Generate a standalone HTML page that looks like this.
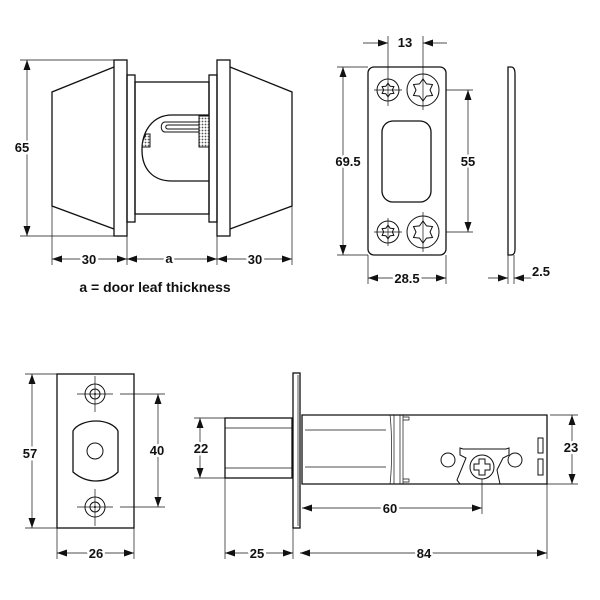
<!DOCTYPE html>
<html><head><style>
html,body{margin:0;padding:0;background:#fff;}
svg{display:block;}
text{font-family:"Liberation Sans",sans-serif;font-weight:bold;font-size:13px;fill:#111;paint-order:stroke;stroke:#fff;stroke-width:5px;stroke-linejoin:round;}
.o{fill:none;stroke:#111;stroke-width:1.3;}
.d{fill:none;stroke:#111;stroke-width:0.7;}
.da{fill:none;stroke:#111;stroke-width:0.7;marker-start:url(#a);marker-end:url(#a);}
.de{fill:none;stroke:#111;stroke-width:0.7;marker-end:url(#a);}
</style></head><body>
<svg width="600" height="600" viewBox="0 0 600 600" xmlns="http://www.w3.org/2000/svg">
<defs>
<marker id="a" markerUnits="userSpaceOnUse" markerWidth="10" markerHeight="7" refX="10" refY="3.5" orient="auto-start-reverse"><path d="M0,0 L10,3.5 L0,7 z" fill="#111"/></marker>
<pattern id="h" width="3" height="3" patternUnits="userSpaceOnUse"><rect width="3" height="3" fill="#fff"/><circle cx="1.5" cy="1.5" r="0.9" fill="#555"/></pattern>
<path id="star" d="M9.5,5.5 L3.5,6.1 L0,11 L-3.5,6.1 L-9.5,5.5 L-7,0 L-9.5,-5.5 L-3.5,-6.1 L0,-11 L3.5,-6.1 L9.5,-5.5 L7,0 Z" fill="none" stroke="#111" stroke-width="1" vector-effect="non-scaling-stroke"/>
</defs>

<!-- ===== Top-left: lock body ===== -->
<path class="o" d="M114,67 L52,92 L52,206 L114,229"/>
<rect class="o" x="114" y="60" width="13" height="176"/>
<rect class="o" x="127" y="75" width="8" height="147"/>
<rect class="o" x="135" y="82" width="74" height="132"/>
<rect class="o" x="209" y="75" width="8" height="147"/>
<rect class="o" x="217" y="60" width="13" height="176"/>
<path class="o" d="M230,67 L292,92 L292,206 L230,229"/>
<path class="o" d="M209,115 L172,115 C152,115 142,132 142,150 C142,168 152,181 172,181 L209,181"/>
<rect x="199" y="116" width="10" height="31" fill="url(#h)" stroke="#111" stroke-width="1"/>
<path d="M142,147 L150,147 L150,134 L146,134 C144,138 142,142 142,147 Z" fill="url(#h)" stroke="#111" stroke-width="1"/>
<path class="o" style="stroke-width:1" d="M199,122 L165,122 C160,122 160,132 165,132 L199,132 M199,125 L168,125 C165,125 165,129 168,129 L199,129"/>
<!-- dims -->
<line class="d" x1="20" y1="60" x2="114" y2="60"/>
<line class="d" x1="20" y1="236" x2="114" y2="236"/>
<line class="da" x1="27" y1="60" x2="27" y2="236"/>
<text x="22" y="152" text-anchor="middle">65</text>
<line class="d" x1="52" y1="206" x2="52" y2="265"/>
<line class="d" x1="127" y1="236" x2="127" y2="265"/>
<line class="d" x1="217" y1="236" x2="217" y2="265"/>
<line class="d" x1="292" y1="206" x2="292" y2="265"/>
<line class="da" x1="52" y1="259" x2="127" y2="259"/>
<line class="da" x1="127" y1="259" x2="217" y2="259"/>
<line class="da" x1="217" y1="259" x2="292" y2="259"/>
<text x="89" y="264" text-anchor="middle">30</text>
<text x="169" y="263" text-anchor="middle">a</text>
<text x="255" y="264" text-anchor="middle">30</text>
<text x="155" y="292" text-anchor="middle" style="font-size:14px">a = door leaf thickness</text>

<!-- ===== Top-right: strike plate ===== -->
<rect class="o" x="368" y="67" width="78" height="188" rx="6"/>
<rect class="o" x="382" y="121" width="49" height="81" rx="11"/>
<g>
<circle class="o" style="stroke-width:1" cx="388" cy="90" r="11"/>
<circle class="o" style="stroke-width:1" cx="388" cy="232" r="11"/>
<use href="#star" transform="translate(388,90) scale(0.62)"/>
<use href="#star" transform="translate(388,232) scale(0.62)"/>
<circle class="o" style="stroke-width:1" cx="423" cy="90" r="16"/>
<circle class="o" style="stroke-width:1" cx="423" cy="232" r="16"/>
<use href="#star" transform="translate(423,90)"/>
<use href="#star" transform="translate(423,232)"/>
</g>
<line class="d" x1="388" y1="36" x2="388" y2="106"/>
<line class="d" x1="423" y1="36" x2="423" y2="110"/>
<line class="d" x1="374" y1="90" x2="402" y2="90"/>
<line class="d" x1="374" y1="232" x2="402" y2="232"/>
<line class="d" x1="388" y1="218" x2="388" y2="246"/>
<line class="d" x1="423" y1="212" x2="423" y2="252"/>
<line class="de" x1="363" y1="43" x2="388" y2="43"/>
<line class="de" x1="447" y1="43" x2="423" y2="43"/>
<text x="405" y="47" text-anchor="middle">13</text>
<line class="d" x1="337" y1="67" x2="368" y2="67"/>
<line class="d" x1="337" y1="255" x2="368" y2="255"/>
<line class="da" x1="343" y1="67" x2="343" y2="255"/>
<text x="348" y="166" text-anchor="middle">69.5</text>
<line class="d" x1="446" y1="90" x2="473" y2="90"/>
<line class="d" x1="446" y1="232" x2="473" y2="232"/>
<line class="da" x1="468" y1="90" x2="468" y2="232"/>
<text x="468" y="166" text-anchor="middle">55</text>
<line class="d" x1="368" y1="255" x2="368" y2="284"/>
<line class="d" x1="446" y1="255" x2="446" y2="284"/>
<line class="da" x1="368" y1="278" x2="446" y2="278"/>
<text x="407" y="283" text-anchor="middle">28.5</text>
<!-- side plate -->
<path class="o" d="M508,67 L511,67 C514,67 515,70 515,74 L515,249 C515,253 514,255 511,255 L508,255 Z"/>
<line class="d" x1="508" y1="255" x2="508" y2="284"/>
<line class="d" x1="514" y1="255" x2="514" y2="284"/>
<line class="de" x1="488" y1="278" x2="508" y2="278"/>
<line class="de" x1="536" y1="278" x2="514" y2="278"/>
<text x="541" y="276" text-anchor="middle">2.5</text>

<!-- ===== Bottom-left: face plate ===== -->
<rect class="o" x="57" y="374" width="77" height="154"/>
<path class="o" d="M73,431 C76,425 86,421 96,421 C106,421 115,425 118,431 L118,472 C112,478 104,481 96,481 C88,481 80,478 73,472 Z"/>
<circle class="o" style="stroke-width:1" cx="95" cy="451" r="8"/>
<circle class="o" style="stroke-width:1" cx="95" cy="394" r="10"/>
<circle class="o" style="stroke-width:1" cx="95" cy="394" r="5"/>
<circle class="o" style="stroke-width:1" cx="95" cy="507" r="10"/>
<circle class="o" style="stroke-width:1" cx="95" cy="507" r="5"/>
<circle cx="95" cy="394" r="1" fill="#111"/>
<circle cx="95" cy="507" r="1" fill="#111"/>
<line class="d" x1="95" y1="376" x2="95" y2="412"/>
<line class="d" x1="95" y1="489" x2="95" y2="526"/>
<line class="d" x1="77" y1="394" x2="113" y2="394"/>
<line class="d" x1="77" y1="507" x2="113" y2="507"/>
<line class="d" x1="120" y1="394" x2="165" y2="394"/>
<line class="d" x1="120" y1="507" x2="165" y2="507"/>
<line class="d" x1="25" y1="374" x2="57" y2="374"/>
<line class="d" x1="25" y1="528" x2="57" y2="528"/>
<line class="da" x1="32" y1="374" x2="32" y2="528"/>
<text x="30" y="458" text-anchor="middle">57</text>
<line class="da" x1="158" y1="394" x2="158" y2="507"/>
<text x="157" y="455" text-anchor="middle">40</text>
<line class="d" x1="57" y1="528" x2="57" y2="559"/>
<line class="d" x1="134" y1="528" x2="134" y2="559"/>
<line class="da" x1="57" y1="553" x2="134" y2="553"/>
<text x="96" y="558" text-anchor="middle">26</text>

<!-- ===== Bottom-right: latch ===== -->
<rect class="o" x="225" y="418" width="67" height="60"/>
<line class="d" x1="225" y1="428" x2="292" y2="428"/>
<line class="d" x1="225" y1="468" x2="292" y2="468"/>
<rect class="o" x="293" y="373" width="7" height="155"/>
<line class="d" x1="298" y1="375" x2="298" y2="526"/>
<path class="o" d="M302,484 L302,415 L390,415 L547,415 C547,415 547,418 547,420 L547,484 Z"/>
<line class="d" x1="305" y1="430" x2="386" y2="430"/>
<line class="d" x1="305" y1="467" x2="386" y2="467"/>
<path class="d" d="M390,415 C392,430 392,470 390,484 M394,415 L394,484 M400,415 L400,484 M403,415 L403,484"/>
<path class="d" d="M403,417 L409,417 L409,420 L403,420 M403,479 L409,479 L409,482 L403,482"/>
<path class="o" style="stroke-width:1" d="M460,448 L463,449 L506,449 L509,448 L509,455 L503,458 L497,470 L500,484 L460,484 L457,480 L466,458 L460,455 Z"/>
<circle class="o" style="stroke-width:1" cx="448" cy="460" r="7"/>
<circle class="o" style="stroke-width:1" cx="515" cy="460" r="7"/>
<circle class="o" style="stroke-width:1" cx="482" cy="467" r="12"/>
<path class="o" style="stroke-width:1" d="M479,459 L485,459 L485,464 L490,464 L490,470 L485,470 L485,475 L479,475 L479,470 L474,470 L474,464 L479,464 Z"/>
<rect class="o" style="stroke-width:1" x="538" y="438" width="5" height="15"/>
<rect class="o" style="stroke-width:1" x="538" y="459" width="5" height="16"/>
<line class="d" x1="194" y1="418" x2="225" y2="418"/>
<line class="d" x1="194" y1="478" x2="225" y2="478"/>
<line class="da" x1="200" y1="418" x2="200" y2="478"/>
<text x="201" y="453" text-anchor="middle">22</text>
<line class="d" x1="550" y1="415" x2="578" y2="415"/>
<line class="d" x1="500" y1="484" x2="578" y2="484"/>
<line class="da" x1="572" y1="415" x2="572" y2="484"/>
<text x="571" y="452" text-anchor="middle">23</text>
<line class="d" x1="482" y1="479" x2="482" y2="514"/>
<line class="da" x1="302" y1="508" x2="482" y2="508"/>
<text x="390" y="513" text-anchor="middle">60</text>
<line class="d" x1="225" y1="478" x2="225" y2="559"/>
<line class="d" x1="293" y1="528" x2="293" y2="559"/>
<line class="d" x1="547" y1="484" x2="547" y2="559"/>
<line class="da" x1="225" y1="553" x2="293" y2="553"/>
<line class="da" x1="300" y1="553" x2="547" y2="553"/>
<text x="257" y="558" text-anchor="middle">25</text>
<text x="424" y="558" text-anchor="middle">84</text>
</svg>
</body></html>
